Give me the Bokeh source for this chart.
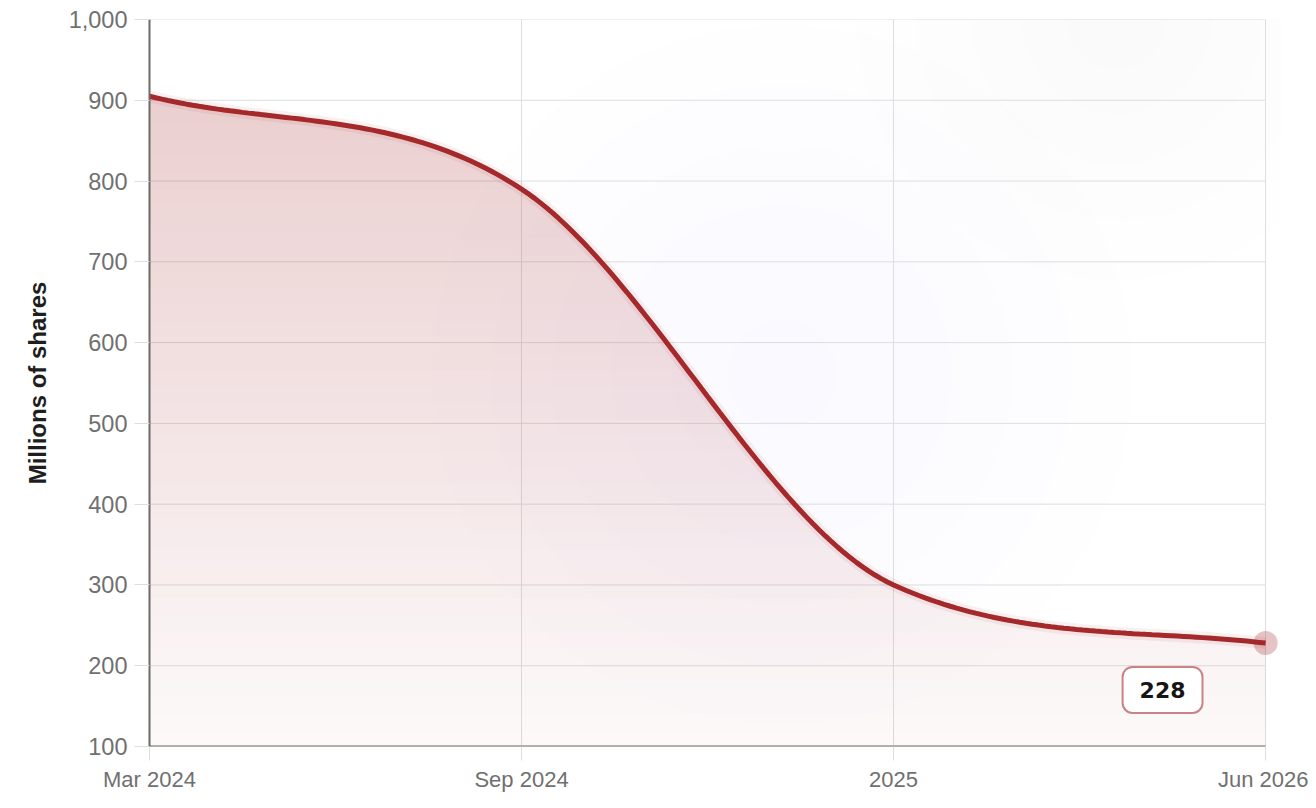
import numpy as np
from bokeh.plotting import figure
from bokeh.models import FixedTicker, Range1d, Label, NumeralTickFormatter
from bokeh.embed import file_html
from bokeh.resources import INLINE

# ---- data ----
periods = ["Mar 2024", "Sep 2024", "2025", "Jun 2026"]
shares = [905, 790, 300, 228]          # millions of shares
y_ticks = [100, 200, 300, 400, 500, 600, 700, 800, 900, 1000]
y_title = "Millions of shares"

LINE = "#a5282b"
GRID = "#dedede"
FONT = "Liberation Sans"

xs_idx = np.arange(len(shares), dtype=float)
ys = np.array(shares, dtype=float)
x_last = xs_idx[-1]
x_pad = 0.04   # room so the end marker is not cut by the frame


def monotone_curve(x, y, n=60):
    """Fritsch-Carlson monotone cubic, used only to draw a smooth path."""
    d = np.diff(y) / np.diff(x)
    m = np.empty_like(y)
    m[0], m[-1] = d[0], d[-1]
    m[1:-1] = (d[:-1] + d[1:]) / 2
    for k in range(len(d)):
        if d[k] == 0:
            m[k] = m[k + 1] = 0
            continue
        a, b = m[k] / d[k], m[k + 1] / d[k]
        s = a * a + b * b
        if s > 9:
            t = 3 / np.sqrt(s)
            m[k], m[k + 1] = t * a * d[k], t * b * d[k]
    px, py = [], []
    for k in range(len(d)):
        h = x[k + 1] - x[k]
        t = np.linspace(0, 1, n, endpoint=(k == len(d) - 1))
        h00 = 2 * t**3 - 3 * t**2 + 1
        h10 = t**3 - 2 * t**2 + t
        h01 = -2 * t**3 + 3 * t**2
        h11 = t**3 - t**2
        px.append(x[k] + t * h)
        py.append(h00 * y[k] + h10 * h * m[k] + h01 * y[k + 1] + h11 * h * m[k + 1])
    return np.concatenate(px), np.concatenate(py)


cx, cy = monotone_curve(xs_idx, ys)

p = figure(
    frame_width=1131, frame_height=727,
    x_range=Range1d(0, x_last + x_pad), y_range=Range1d(y_ticks[0], y_ticks[-1]),
    output_backend="svg", toolbar_location=None,
    min_border_left=149, min_border_top=19, min_border_right=28, min_border_bottom=54,
    background_fill_color="white", border_fill_color="white",
)
p.outline_line_color = None

# faint background haze (concentric low-alpha discs)
p.scatter(x=[1.7] * 6, y=[560] * 6, size=[700, 580, 460, 340, 220, 110],
          marker="circle", fill_color="#dfe6f1", fill_alpha=0.03, line_color=None)
p.scatter(x=[2.6] * 5, y=[1000] * 5, size=[520, 400, 290, 190, 100],
          marker="circle", fill_color="#e4e8ef", fill_alpha=0.03, line_color=None)

# horizontal grid lines limited to the data span
p.segment(x0=[xs_idx[0]] * len(y_ticks), x1=[x_last] * len(y_ticks),
          y0=y_ticks, y1=y_ticks, line_color=GRID, line_width=1)

# gradient area fill: horizontal bands
edges = np.linspace(y_ticks[0], max(shares) + 5, 41)
for i in range(len(edges) - 1):
    a, b = edges[i], edges[i + 1]
    frac = (0.5 * (a + b) - y_ticks[0]) / (max(shares) - y_ticks[0])
    alpha = 0.025 + 0.20 * frac
    lo = np.minimum(cy, a)
    hi = np.minimum(cy, b)
    p.varea(x=cx, y1=lo, y2=hi, fill_color=LINE, fill_alpha=alpha)

# bottom axis line limited to the data span
p.segment(x0=[xs_idx[0]], x1=[x_last], y0=[y_ticks[0]], y1=[y_ticks[0]],
          line_color="#6b6b68", line_width=2)

# line glow + line
p.line(cx, cy, line_color=LINE, line_width=12, line_alpha=0.07)
p.line(cx, cy, line_color=LINE, line_width=5)

# end point
p.scatter(x=[x_last], y=[ys[-1]], size=24, marker="circle",
          fill_color=LINE, fill_alpha=0.28, line_color=None)

# value label
p.add_layout(Label(
    x=x_last - 0.277, y=ys[-1] - 58, text=f"{shares[-1]}",
    text_align="center", text_baseline="middle",
    text_font="DejaVu Sans", text_font_style="bold", text_font_size="22px",
    text_color="#151515",
    background_fill_color="white", background_fill_alpha=1.0,
    border_line_color="#c98285", border_line_width=2,
    border_radius=10, padding=(17, 15),
))

# axes
p.xaxis.ticker = FixedTicker(ticks=list(xs_idx))
p.xaxis.major_label_overrides = {float(i): s for i, s in enumerate(periods)}
p.xaxis.major_label_overrides.update({int(i): s for i, s in enumerate(periods)})
p.yaxis.ticker = FixedTicker(ticks=y_ticks)
p.yaxis.formatter = NumeralTickFormatter(format="0,0")

for ax in (p.xaxis, p.yaxis):
    ax.axis_line_color = "#6b6b68"
    ax.axis_line_width = 2
    ax.major_tick_line_color = GRID
    ax.major_tick_line_width = 1
    ax.major_tick_in = 0
    ax.minor_tick_line_color = None
    ax.major_label_text_font = FONT
    ax.major_label_text_color = "#707070"

p.xaxis.axis_line_color = None
p.xaxis.major_label_text_font_size = "22px"
p.yaxis.major_label_text_font_size = "23.5px"
p.xaxis.major_tick_out = 14
p.xaxis.major_label_standoff = 6
p.yaxis.major_tick_out = 15
p.yaxis.major_label_standoff = 7

p.yaxis.axis_label = y_title
p.yaxis.axis_label_text_font = FONT
p.yaxis.axis_label_text_font_style = "bold"
p.yaxis.axis_label_text_font_size = "24px"
p.yaxis.axis_label_text_color = "#1e1e1e"
p.yaxis.axis_label_standoff = 15

p.xgrid.ticker = FixedTicker(ticks=list(xs_idx))
p.xgrid.grid_line_color = GRID
p.xgrid.grid_line_width = 1
p.ygrid.grid_line_color = None

open("out.html", "w").write(file_html(p, INLINE))
